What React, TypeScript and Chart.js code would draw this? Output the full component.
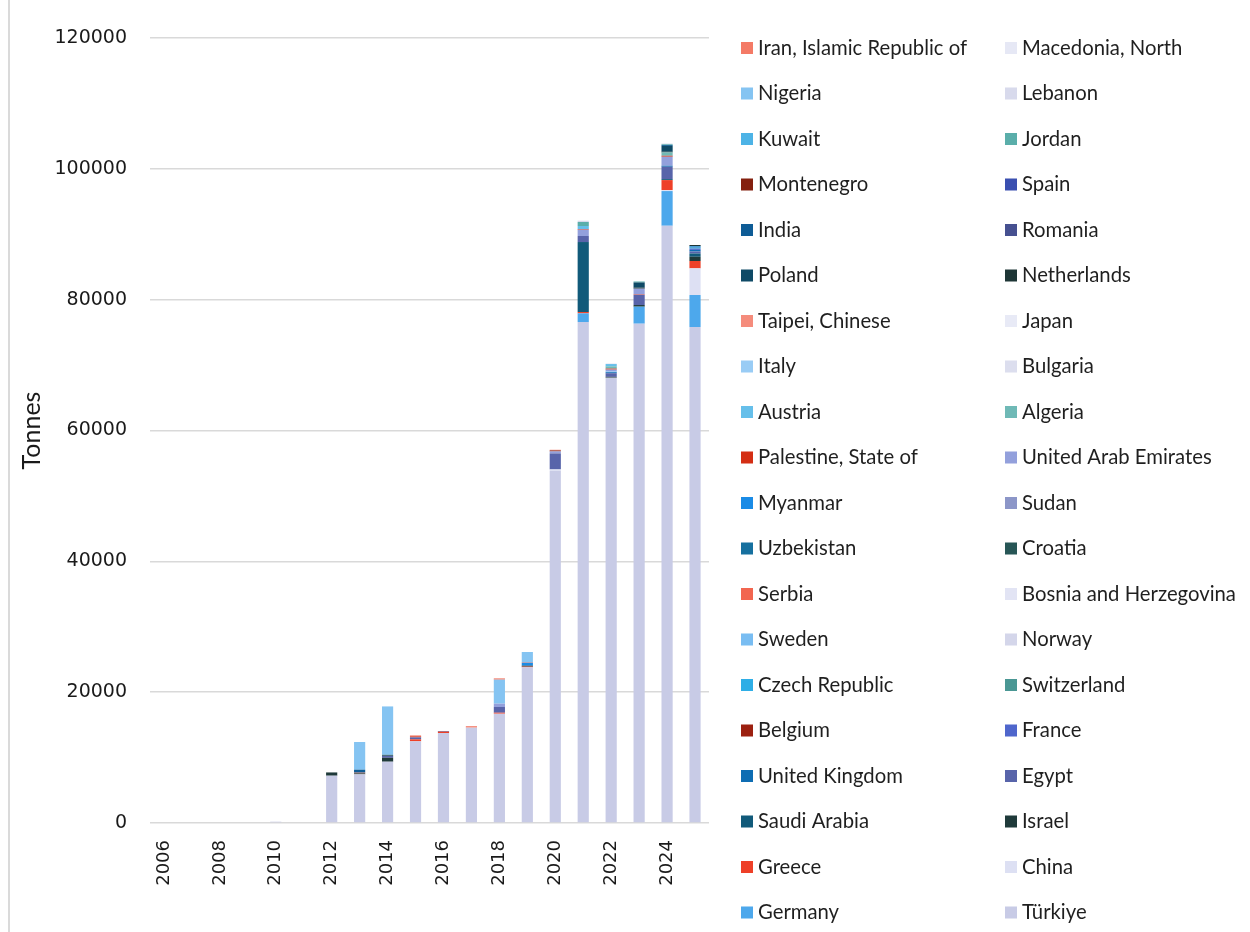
import React, { useEffect, useRef } from "react";
import { Chart, registerables } from "chart.js";

Chart.register(...registerables);

const years: string[] = [
  "2006", "2007", "2008", "2009", "2010", "2011", "2012", "2013", "2014", "2015",
  "2016", "2017", "2018", "2019", "2020", "2021", "2022", "2023", "2024", "2025",
];

// Series in stacking order (bottom first)
const turkiye = [0, 0, 0, 0, 200, 0, 7230, 7440, 9370, 12490, 13760, 14570, 16710, 23800, 53850, 76580, 68070, 76330, 91300, 75820];
const germany = [0, 0, 0, 0, 0, 0, 0, 0, 0, 0, 0, 0, 0, 0, 0, 1330, 0, 2600, 5300, 4890];
const china = [0, 0, 0, 0, 0, 0, 0, 0, 0, 0, 0, 0, 0, 0, 200, 0, 0, 0, 150, 4080];
const greece = [0, 0, 0, 0, 0, 0, 0, 0, 0, 300, 200, 0, 150, 100, 0, 200, 0, 0, 1530, 1120];
const israel = [0, 0, 0, 0, 0, 0, 500, 150, 600, 0, 0, 0, 0, 150, 0, 0, 130, 250, 0, 650];
const saudiArabia = [0, 0, 0, 0, 0, 0, 0, 0, 0, 0, 0, 0, 0, 0, 0, 10700, 0, 0, 150, 500];
const egypt = [0, 0, 0, 0, 0, 0, 0, 0, 300, 300, 0, 0, 870, 0, 2450, 920, 560, 1580, 1890, 300];
const unitedKingdom = [0, 0, 0, 0, 0, 0, 0, 0, 0, 0, 0, 0, 0, 0, 0, 0, 150, 0, 150, 250];
const france = [0, 0, 0, 0, 0, 0, 0, 0, 0, 0, 0, 0, 0, 0, 0, 0, 0, 0, 0, 200];
const belgium = [0, 0, 0, 0, 0, 0, 0, 0, 0, 0, 0, 0, 0, 0, 0, 0, 0, 0, 0, 0];
const switzerland = [0, 0, 0, 0, 0, 0, 0, 0, 0, 0, 0, 0, 0, 0, 0, 0, 0, 0, 0, 0];
const czechRepublic = [0, 0, 0, 0, 0, 0, 0, 0, 0, 0, 0, 0, 0, 0, 0, 0, 0, 0, 0, 150];
const norway = [0, 0, 0, 0, 0, 0, 0, 0, 0, 0, 0, 0, 0, 0, 0, 0, 0, 0, 0, 0];
const sweden = [0, 0, 0, 0, 0, 0, 0, 0, 0, 0, 0, 0, 0, 0, 0, 0, 100, 0, 0, 0];
const bosnia = [0, 0, 0, 0, 0, 0, 0, 0, 0, 0, 0, 0, 0, 0, 0, 0, 0, 0, 0, 0];
const serbia = [0, 0, 0, 0, 0, 0, 0, 100, 0, 0, 0, 0, 0, 0, 0, 0, 0, 100, 0, 0];
const croatia = [0, 0, 0, 0, 0, 0, 0, 0, 150, 0, 0, 0, 0, 0, 0, 0, 0, 0, 0, 0];
const uzbekistan = [0, 0, 0, 0, 0, 0, 0, 0, 0, 0, 0, 0, 0, 0, 0, 0, 0, 0, 0, 100];
const sudan = [0, 0, 0, 0, 0, 0, 0, 0, 0, 0, 0, 0, 0, 0, 0, 0, 0, 0, 0, 0];
const myanmar = [0, 0, 0, 0, 0, 0, 0, 0, 0, 0, 0, 0, 0, 460, 0, 0, 0, 0, 0, 100];
const uae = [0, 0, 0, 0, 0, 0, 0, 0, 0, 0, 0, 0, 510, 0, 300, 970, 300, 820, 1380, 0];
const palestine = [0, 0, 0, 0, 0, 0, 0, 0, 0, 150, 0, 0, 0, 0, 0, 100, 150, 0, 150, 0];
const algeria = [0, 0, 0, 0, 0, 0, 0, 0, 0, 0, 0, 0, 0, 0, 0, 0, 350, 0, 510, 0];
const austria = [0, 0, 0, 0, 0, 0, 0, 0, 0, 0, 0, 0, 0, 0, 0, 460, 350, 0, 0, 0];
const bulgaria = [0, 0, 0, 0, 0, 0, 0, 0, 0, 0, 0, 0, 0, 0, 0, 0, 0, 0, 0, 0];
const italy = [0, 0, 0, 0, 0, 0, 0, 0, 0, 0, 0, 0, 0, 0, 0, 0, 0, 0, 0, 0];
const japan = [0, 0, 0, 0, 0, 0, 0, 0, 0, 0, 0, 0, 0, 0, 0, 0, 0, 0, 0, 0];
const taipei = [0, 0, 0, 0, 0, 0, 0, 0, 0, 0, 0, 250, 0, 100, 0, 0, 0, 0, 0, 0];
const netherlands = [0, 0, 0, 0, 0, 0, 0, 0, 0, 0, 0, 0, 0, 0, 0, 0, 0, 150, 100, 200];
const poland = [0, 0, 0, 0, 0, 0, 0, 0, 0, 0, 0, 0, 0, 0, 0, 0, 0, 800, 900, 0];
const romania = [0, 0, 0, 0, 0, 0, 0, 0, 0, 0, 100, 0, 0, 0, 0, 0, 0, 0, 0, 0];
const india = [0, 0, 0, 0, 0, 0, 0, 460, 0, 0, 0, 0, 0, 0, 0, 0, 0, 0, 150, 0];
const spain = [0, 0, 0, 0, 0, 0, 0, 0, 0, 0, 0, 0, 0, 0, 0, 0, 0, 0, 0, 0];
const montenegro = [0, 0, 0, 0, 0, 0, 0, 0, 0, 0, 0, 0, 0, 0, 150, 0, 0, 0, 0, 0];
const jordan = [0, 0, 0, 0, 0, 0, 0, 0, 0, 0, 0, 0, 0, 0, 0, 610, 0, 150, 100, 0];
const kuwait = [0, 0, 0, 0, 0, 0, 0, 0, 0, 0, 0, 0, 0, 0, 0, 0, 0, 0, 0, 0];
const lebanon = [0, 0, 0, 0, 0, 0, 0, 0, 0, 0, 0, 0, 0, 0, 0, 200, 0, 0, 0, 0];
const nigeria = [0, 0, 0, 0, 0, 0, 0, 4230, 7400, 0, 0, 0, 3670, 1530, 0, 0, 0, 0, 0, 0];
const macedonia = [0, 0, 0, 0, 0, 0, 0, 0, 0, 0, 0, 0, 0, 0, 0, 0, 100, 0, 150, 0];
const iran = [0, 0, 0, 0, 0, 0, 0, 0, 0, 150, 0, 0, 200, 0, 100, 0, 0, 0, 0, 0];

const seriesNames: string[] = [
  "Türkiye", "Germany", "China", "Greece", "Israel", "Saudi Arabia", "Egypt",
  "United Kingdom", "France", "Belgium", "Switzerland", "Czech Republic", "Norway",
  "Sweden", "Bosnia and Herzegovina", "Serbia", "Croatia", "Uzbekistan", "Sudan",
  "Myanmar", "United Arab Emirates", "Palestine, State of", "Algeria", "Austria",
  "Bulgaria", "Italy", "Japan", "Taipei, Chinese", "Netherlands", "Poland", "Romania",
  "India", "Spain", "Montenegro", "Jordan", "Kuwait", "Lebanon", "Nigeria",
  "Macedonia, North", "Iran, Islamic Republic of",
];

const seriesValues: number[][] = [
  turkiye, germany, china, greece, israel, saudiArabia, egypt, unitedKingdom, france,
  belgium, switzerland, czechRepublic, norway, sweden, bosnia, serbia, croatia,
  uzbekistan, sudan, myanmar, uae, palestine, algeria, austria, bulgaria, italy, japan,
  taipei, netherlands, poland, romania, india, spain, montenegro, jordan, kuwait,
  lebanon, nigeria, macedonia, iran,
];

const seriesColors: string[] = [
  "#c8cbe6", "#4da8ec", "#dde0f3", "#ee4028", "#1f3a3a", "#115a7a", "#5864aa",
  "#0e6db3", "#4f66cc", "#9c2010", "#4a9794", "#2eaee6", "#d4d6ea", "#79bdf2",
  "#e2e4f4", "#f26650", "#275656", "#16709f", "#8c96c8", "#1a8be6", "#93a0dc",
  "#d42e14", "#6fb9b6", "#66bfea", "#dcdeee", "#99ccf5", "#e8eaf6", "#f58c7c",
  "#1e3636", "#0f4a66", "#465090", "#0e5c96", "#3a4fb0", "#84200f", "#5aaeaa",
  "#4db3e6", "#d8daec", "#85c4f2", "#e6e8f5", "#f47a66",
];

const yTicks: number[] = [0, 20000, 40000, 60000, 80000, 100000, 120000];

const W = 1250;
const H = 932;

const gridLegend = {
  id: "gridLegend",
  afterDraw(chart: any) {
    const ctx = chart.ctx;
    const ds = chart.data.datasets;
    const n = ds.length;
    ctx.save();
    ctx.font = "20.3px Lato";
    ctx.textBaseline = "middle";
    ctx.textAlign = "left";
    const colX = [741, 1005];
    const top = 48;
    const step = 45.5;
    for (let k = 0; k < n; k++) {
      const d = ds[n - 1 - k];
      const row = Math.floor(k / 2);
      const col = k % 2;
      const cy = top + row * step;
      ctx.fillStyle = d.backgroundColor;
      ctx.fillRect(colX[col], cy - 6, 12, 12);
      ctx.fillStyle = "#1f1f1f";
      ctx.fillText(d.label, colX[col] + 17, cy);
    }
    ctx.restore();
  },
};

function StackedChart() {
  const ref = useRef<HTMLCanvasElement | null>(null);
  useEffect(() => {
    if (!ref.current) return;
    const chart = new Chart(ref.current, {
      type: "bar",
      data: {
        labels: years,
        datasets: seriesNames.map((name, i) => ({
          label: name,
          data: seriesValues[i],
          backgroundColor: seriesColors[i],
          borderWidth: 0,
          barPercentage: 0.8,
          categoryPercentage: 0.5,
        })),
      },
      options: {
        animation: false,
        responsive: false,
        devicePixelRatio: 1,
        layout: { padding: { left: 0, right: W - 709, top: 38, bottom: 0 } },
        plugins: {
          legend: { display: false },
          tooltip: { enabled: false },
        },
        scales: {
          x: {
            stacked: true,
            grid: { display: false },
            border: { display: false },
            ticks: {
              autoSkip: false,
              minRotation: 90,
              maxRotation: 90,
              padding: 9,
              color: "#1a1a1a",
              font: { family: "DejaVu Sans", size: 18 },
              callback: (_v: any, i: number) => (i % 2 === 0 ? years[i] : ""),
            },
            afterFit: (axis: any) => {
              axis.height = H - 823;
            },
          },
          y: {
            stacked: true,
            min: 0,
            max: 120000,
            afterBuildTicks: (axis: any) => {
              axis.ticks = yTicks.map((v) => ({ value: v }));
            },
            grid: { color: "#d9d9d9", lineWidth: 1.5, drawTicks: false },
            border: { display: false },
            ticks: {
              padding: 23,
              color: "#1a1a1a",
              font: { family: "DejaVu Sans", size: 19 },
              callback: (v: any) => String(v),
            },
            title: {
              display: true,
              text: "Tonnes",
              color: "#1a1a1a",
              font: { family: "Lato", size: 25 },
              padding: { top: 17, bottom: 0 },
            },
            afterFit: (axis: any) => {
              axis.width = 150;
            },
          },
        },
      },
      plugins: [gridLegend],
    });
    return () => chart.destroy();
  }, []);
  return <canvas ref={ref} width={W} height={H} style={{ display: "block" }} />;
}

export default function App() {
  return (
    <div style={{ position: "fixed", left: 0, top: 0, width: W, height: H, background: "#fff", overflow: "hidden" }}>
      <div style={{ position: "absolute", left: 8, top: 0, width: 2, height: H, background: "#dadada" }} />
      <div style={{ position: "absolute", left: 0, top: 0 }}>
        <StackedChart />
      </div>
    </div>
  );
}
